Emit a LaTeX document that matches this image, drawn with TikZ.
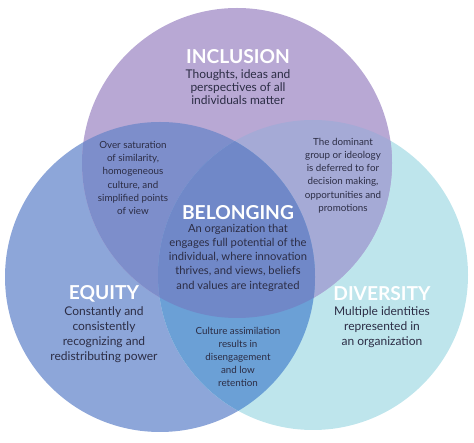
\documentclass[tikz,border=0pt]{standalone}
\usepackage{fontspec}
\setmainfont{Lato}
\usetikzlibrary{positioning}
\definecolor{incpurple}{HTML}{B8A8D4}
\definecolor{eqblue}{HTML}{8DA6D9}
\definecolor{divcyan}{HTML}{BEE5EC}
\definecolor{incEq}{HTML}{7D8ECB}
\definecolor{incDiv}{HTML}{A5AAD6}
\definecolor{eqDiv}{HTML}{6BA0D6}
\definecolor{belong}{HTML}{7088C8}
\definecolor{inkslate}{HTML}{2C2D45}
\tikzset{
  % titel
  vtitle/.style={text=white,font=\fontsize{19.2}{20}\selectfont\bfseries,inner sep=0pt},
  % text
  vbody/.style={text=inkslate,align=center,inner sep=0pt,
               font=\fontsize{12}{#1}\selectfont},
  vsmall/.style={text=inkslate,align=center,inner sep=0pt,
               font=\fontsize{9.8}{13.2}\selectfont},
}
\begin{document}
\begin{tikzpicture}[x=1pt,y=-1pt]
\useasboundingbox (0,0) rectangle (474,443);
  \def\rad{155}
  \coordinate (inc) at (237,163);
  \coordinate (eq) at (160,277);
  \coordinate (div) at (313,275);
  \fill[eqblue] (eq) circle (\rad);
  \fill[divcyan] (div) circle (\rad);
  \fill[incpurple] (inc) circle (\rad);
  \begin{scope}
    \clip (inc) circle (\rad);
    \fill[incEq] (eq) circle (\rad);
    \fill[incDiv] (div) circle (\rad);
  \end{scope}
  \begin{scope}
    \clip (eq) circle (\rad);
    \fill[eqDiv] (div) circle (\rad);
    \clip (inc) circle (\rad);
    \fill[belong] (div) circle (\rad);
  \end{scope}
  % rubriker
  \node[vtitle] (inct) at (238,57) {INCLUSION};
  \node[vtitle] (belt) at (238,213) {BELONGING};
  \node[vtitle] (eqt) at (104,294) {EQUITY};
  \node[vtitle] (divt) at (382,294) {DIVERSITY};
  \node[vbody=12.7] (incb) at (238,87) {Thoughts, ideas and\\perspectives of all\\individuals matter};
  \node[vbody=14.3,font=\fontsize{11.2}{14.3}\selectfont] (belb) at (238,257.5) {An organization that\\engages full potential of the\\individual, where innovation\\thrives, and views, beliefs\\and values are integrated};
  \node[vbody=15] (eqb) at (104,334.5) {Constantly and\\consistently\\recognizing and\\redistributing power};
  \node[vbody=15] (divb) at (382,327) {Multiple identities\\represented in\\an organization};
  % snitt
  \node[vsmall] (ie) at (133,178) {Over saturation\\of similarity,\\homogeneous\\culture, and\\simplified points\\of view};
  \node[vsmall] (id) at (343,175.5) {The dominant\\group or ideology\\is deferred to for\\decision making,\\opportunities and\\promotions};
  \node[vsmall] (ed) at (238,357) {Culture assimilation\\results in\\disengagement\\and low\\retention};
\end{tikzpicture}
\end{document}
